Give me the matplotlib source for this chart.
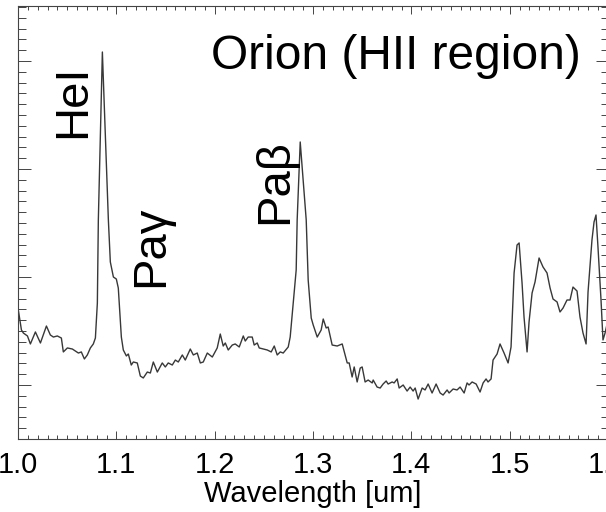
import matplotlib
matplotlib.use('Agg')
import matplotlib.pyplot as plt
from matplotlib.ticker import MultipleLocator

plt.rcParams['font.family'] = ['Liberation Sans', 'DejaVu Sans']

# spectrum: wavelength [um] and flux (arbitrary units)
wavelength = [
    1.0000, 1.0035, 1.0055, 1.0096, 1.0126, 1.0177, 1.0228, 1.0289, 1.0329, 1.0360,
    1.0400, 1.0441, 1.0461, 1.0502, 1.0553, 1.0583, 1.0614, 1.0644, 1.0675, 1.0705,
    1.0736, 1.0766, 1.0787, 1.0807, 1.0817, 1.0858, 1.0919, 1.0939, 1.0970, 1.1000,
    1.1020, 1.1051, 1.1071, 1.1102, 1.1122, 1.1152, 1.1173, 1.1213, 1.1244, 1.1274,
    1.1315, 1.1346, 1.1376, 1.1417, 1.1467, 1.1498, 1.1528, 1.1569, 1.1600, 1.1630,
    1.1671, 1.1701, 1.1752, 1.1783, 1.1823, 1.1854, 1.1884, 1.1925, 1.1976, 1.2026,
    1.2057, 1.2087, 1.2108, 1.2138, 1.2179, 1.2209, 1.2250, 1.2291, 1.2311, 1.2341,
    1.2382, 1.2402, 1.2433, 1.2453, 1.2494, 1.2535, 1.2575, 1.2606, 1.2636, 1.2667,
    1.2697, 1.2748, 1.2768, 1.2799, 1.2829, 1.2839, 1.2870, 1.2931, 1.2951, 1.2982,
    1.3002, 1.3043, 1.3083, 1.3104, 1.3134, 1.3154, 1.3195, 1.3246, 1.3297, 1.3348,
    1.3368, 1.3398, 1.3419, 1.3449, 1.3480, 1.3500, 1.3530, 1.3561, 1.3602, 1.3612,
    1.3652, 1.3683, 1.3713, 1.3744, 1.3764, 1.3805, 1.3825, 1.3856, 1.3876, 1.3917,
    1.3957, 1.3988, 1.4018, 1.4039, 1.4069, 1.4110, 1.4140, 1.4171, 1.4211, 1.4252,
    1.4293, 1.4323, 1.4364, 1.4384, 1.4425, 1.4465, 1.4496, 1.4537, 1.4567, 1.4587,
    1.4618, 1.4659, 1.4699, 1.4730, 1.4760, 1.4780, 1.4811, 1.4831, 1.4872, 1.4902,
    1.4943, 1.4984, 1.5014, 1.5045, 1.5075, 1.5096, 1.5126, 1.5146, 1.5177, 1.5197,
    1.5228, 1.5258, 1.5299, 1.5339, 1.5380, 1.5411, 1.5441, 1.5482, 1.5512, 1.5543,
    1.5583, 1.5614, 1.5644, 1.5685, 1.5715, 1.5746, 1.5777, 1.5797, 1.5837, 1.5858,
    1.5878, 1.5898, 1.5929, 1.5949, 1.5970, 1.6000,
]
flux = [
    1.713, 1.509, 1.481, 1.454, 1.380, 1.491, 1.389, 1.546, 1.463, 1.444,
    1.454, 1.435, 1.306, 1.343, 1.333, 1.315, 1.296, 1.306, 1.241, 1.278,
    1.343, 1.380, 1.435, 1.759, 2.528, 4.083, 2.528, 2.139, 2.000, 1.981,
    1.898, 1.444, 1.324, 1.269, 1.287, 1.185, 1.213, 1.204, 1.083, 1.065,
    1.120, 1.111, 1.213, 1.120, 1.204, 1.167, 1.204, 1.185, 1.231, 1.213,
    1.278, 1.231, 1.333, 1.278, 1.296, 1.204, 1.213, 1.296, 1.259, 1.343,
    1.472, 1.361, 1.389, 1.324, 1.370, 1.380, 1.352, 1.454, 1.407, 1.444,
    1.444, 1.370, 1.389, 1.343, 1.333, 1.324, 1.306, 1.361, 1.278, 1.306,
    1.296, 1.352, 1.444, 1.759, 2.065, 2.528, 3.250, 2.528, 1.972, 1.620,
    1.556, 1.444, 1.509, 1.611, 1.528, 1.537, 1.370, 1.361, 1.380, 1.204,
    1.204, 1.074, 1.167, 1.028, 1.157, 1.167, 1.028, 1.046, 1.019, 1.046,
    0.981, 0.972, 1.009, 1.037, 1.009, 1.028, 1.019, 1.056, 0.972, 1.000,
    0.944, 0.981, 0.944, 0.972, 0.870, 0.972, 0.954, 1.009, 0.926, 1.009,
    0.926, 0.907, 0.954, 0.926, 0.963, 0.954, 0.981, 0.926, 1.019, 1.000,
    1.028, 1.009, 0.935, 1.019, 1.056, 1.028, 1.056, 1.231, 1.287, 1.380,
    1.296, 1.204, 1.352, 2.037, 2.296, 2.315, 1.944, 1.630, 1.306, 1.583,
    1.852, 1.954, 2.176, 2.093, 2.037, 1.898, 1.796, 1.769, 1.676, 1.713,
    1.787, 1.787, 1.907, 1.870, 1.630, 1.481, 1.380, 1.861, 2.343, 2.509,
    2.574, 2.278, 1.787, 1.417, 1.481, 1.602,
]

# line labels: (text, wavelength of baseline, flux at text centre)
line_labels = ['HeI', 'Paγ', 'Paβ']
label_x = [1.0685, 1.1478, 1.2738]
label_y = [3.625, 2.287, 2.880]

fig = plt.figure(figsize=(6.06, 5.12), dpi=100)
ax = fig.add_axes([18 / 606, 73 / 512, 590 / 606, 433 / 512])

ax.plot(wavelength, flux, color='#383838', lw=1.0)

for t, x, y in zip(line_labels, label_x, label_y):
    ax.text(x, y, t, rotation=90, rotation_mode='anchor', ha='center', va='baseline',
            fontsize=34, color='black')

ax.text(1.1965, 3.926, 'Orion (HII region)', ha='left', va='baseline', fontsize=34.5)

ax.set_xlim(1.0, 1.6)
ax.set_ylim(0.5, 4.509)
ax.xaxis.set_major_locator(MultipleLocator(0.1))
ax.xaxis.set_minor_locator(MultipleLocator(0.01))
ax.yaxis.set_major_locator(MultipleLocator(1))
ax.yaxis.set_minor_locator(MultipleLocator(0.1))
ax.xaxis.set_major_formatter(plt.FormatStrFormatter('%.1f'))

ax.tick_params(which='both', direction='in', top=True, right=True, width=0.7, color='#444444')
ax.tick_params(axis='x', which='major', length=5.8, labelsize=21, pad=8.5)
ax.tick_params(axis='x', which='minor', length=2.9)
ax.tick_params(axis='y', which='major', length=9.0, labelleft=False)
ax.tick_params(axis='y', which='minor', length=5.4)
for s in ax.spines.values():
    s.set_linewidth(0.8)
    s.set_color('#444444')

ax.set_xlabel('Wavelength [um]', fontsize=21)
ax.xaxis.label.set_va('baseline')
ax.xaxis.set_label_coords(0.4995, -0.1455)

fig.savefig('out.png', dpi=100)
